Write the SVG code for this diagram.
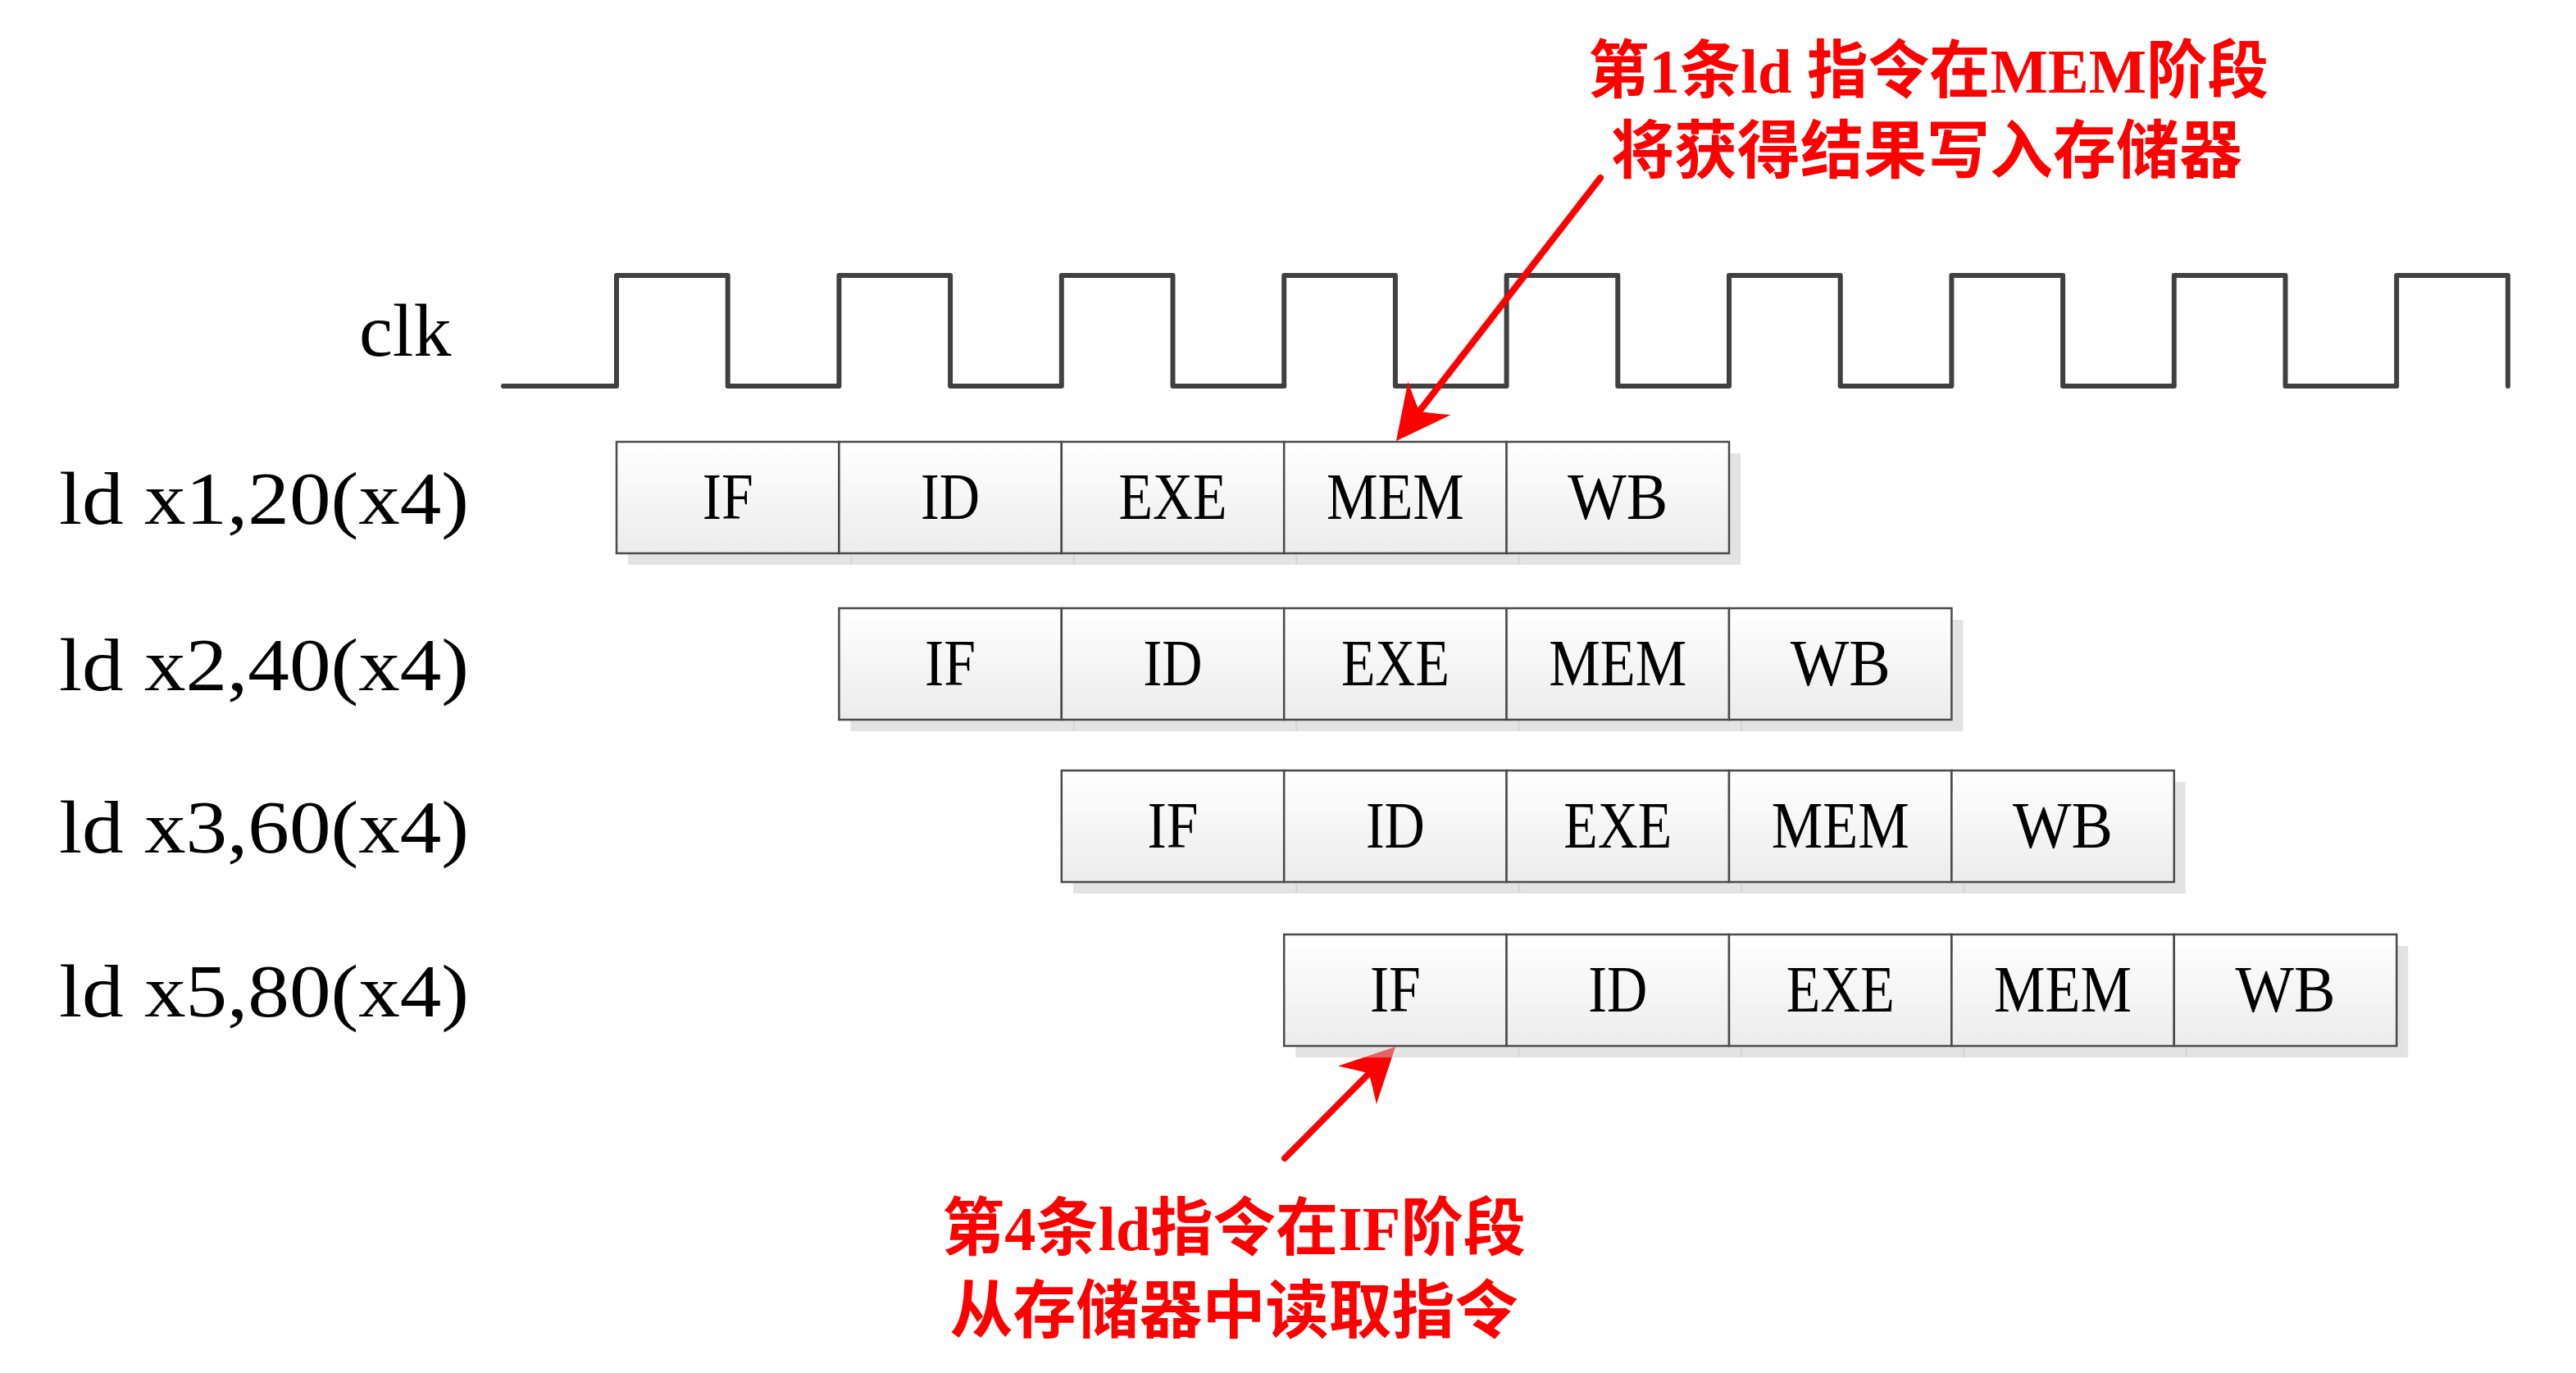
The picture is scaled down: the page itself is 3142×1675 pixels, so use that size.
<svg xmlns="http://www.w3.org/2000/svg" width="3142" height="1675" viewBox="0 0 3142 1675">
<defs>
<linearGradient id="cellGrad" x1="0" y1="0" x2="0" y2="1">
<stop offset="0" stop-color="#ffffff"/>
<stop offset="1" stop-color="#ececec"/>
</linearGradient>
<style>
.clk{fill:none;stroke:#404040;stroke-width:6;stroke-linejoin:round;stroke-linecap:round}
.cell{fill:url(#cellGrad);stroke:#4a4a4a;stroke-width:2.5}
.shadow{fill:#c8c8c8;fill-opacity:0.5;stroke:none}
.stage{font-family:"Liberation Serif",serif;font-size:80px;fill:#000;text-anchor:middle}
.lbl{font-family:"Liberation Serif",serif;font-size:92px;fill:#000}
.note{font-family:"Liberation Serif","Noto Sans CJK SC",serif;font-size:77px;font-weight:bold;fill:#ff0000;text-anchor:middle}
.shaft{stroke:#ff0000;stroke-width:8;stroke-linecap:round;fill:none}
.head{fill:#ff0000;stroke:none}
</style>
</defs>
<rect width="3142" height="1675" fill="#ffffff"/>

<g id="clock">
<text class="lbl" x="438" y="434" font-size="90">clk</text>
<path class="clk" d="M614,471 H752 V336 H887.7 V471 H1023.4 V336 H1159.1 V471 H1294.8 V336 H1430.5 V471 H1566.2 V336 H1701.9 V471 H1837.6 V336 H1973.3 V471 H2109 V336 H2244.7 V471 H2380.4 V336 H2516.1 V471 H2651.8 V336 H2787.5 V471 H2923.2 V336 H3058.9 V471"/>
</g>

<g id="connectors">
<line class="shaft" x1="1952" y1="217" x2="1731.2" y2="501.7"/>
<path class="head" transform="translate(1703,538) rotate(127.8)" d="M0,0 L-66,-33 Q-50,-8 -46,0 Q-50,8 -66,33 Z"/>
<line class="shaft" x1="1567" y1="1413" x2="1669.6" y2="1309.7"/>
<path class="head" transform="translate(1702,1277) rotate(-45.2)" d="M0,0 L-66,-33 Q-50,-8 -46,0 Q-50,8 -66,33 Z"/>
</g>

<g id="row1">
<text class="lbl" x="72" y="639" textLength="500" lengthAdjust="spacingAndGlyphs">ld x1,20(x4)</text>
<g id="r1-shadow">
<rect class="shadow" x="766" y="553" width="273.4" height="136"/>
<rect class="shadow" x="1037.4" y="553" width="273.4" height="136"/>
<rect class="shadow" x="1308.8" y="553" width="273.4" height="136"/>
<rect class="shadow" x="1580.2" y="553" width="273.4" height="136"/>
<rect class="shadow" x="1851.6" y="553" width="271.4" height="136"/>
</g>
<g id="r1-IF"><rect class="cell" x="752" y="539" width="271.4" height="136"/><text class="stage" x="887.7" y="633" textLength="62" lengthAdjust="spacingAndGlyphs">IF</text></g>
<g id="r1-ID"><rect class="cell" x="1023.4" y="539" width="271.4" height="136"/><text class="stage" x="1159.1" y="633" textLength="72" lengthAdjust="spacingAndGlyphs">ID</text></g>
<g id="r1-EXE"><rect class="cell" x="1294.8" y="539" width="271.4" height="136"/><text class="stage" x="1430.5" y="633" textLength="132" lengthAdjust="spacingAndGlyphs">EXE</text></g>
<g id="r1-MEM"><rect class="cell" x="1566.2" y="539" width="271.4" height="136"/><text class="stage" x="1701.9" y="633" textLength="168" lengthAdjust="spacingAndGlyphs">MEM</text></g>
<g id="r1-WB"><rect class="cell" x="1837.6" y="539" width="271.4" height="136"/><text class="stage" x="1973.3" y="633" textLength="122" lengthAdjust="spacingAndGlyphs">WB</text></g>
</g>

<g id="row2">
<text class="lbl" x="72" y="842" textLength="500" lengthAdjust="spacingAndGlyphs">ld x2,40(x4)</text>
<g id="r2-shadow">
<rect class="shadow" x="1037.4" y="756" width="273.4" height="136"/>
<rect class="shadow" x="1308.8" y="756" width="273.4" height="136"/>
<rect class="shadow" x="1580.2" y="756" width="273.4" height="136"/>
<rect class="shadow" x="1851.6" y="756" width="273.4" height="136"/>
<rect class="shadow" x="2123" y="756" width="271.4" height="136"/>
</g>
<g id="r2-IF"><rect class="cell" x="1023.4" y="742" width="271.4" height="136"/><text class="stage" x="1159.1" y="836" textLength="62" lengthAdjust="spacingAndGlyphs">IF</text></g>
<g id="r2-ID"><rect class="cell" x="1294.8" y="742" width="271.4" height="136"/><text class="stage" x="1430.5" y="836" textLength="72" lengthAdjust="spacingAndGlyphs">ID</text></g>
<g id="r2-EXE"><rect class="cell" x="1566.2" y="742" width="271.4" height="136"/><text class="stage" x="1701.9" y="836" textLength="132" lengthAdjust="spacingAndGlyphs">EXE</text></g>
<g id="r2-MEM"><rect class="cell" x="1837.6" y="742" width="271.4" height="136"/><text class="stage" x="1973.3" y="836" textLength="168" lengthAdjust="spacingAndGlyphs">MEM</text></g>
<g id="r2-WB"><rect class="cell" x="2109" y="742" width="271.4" height="136"/><text class="stage" x="2244.7" y="836" textLength="122" lengthAdjust="spacingAndGlyphs">WB</text></g>
</g>

<g id="row3">
<text class="lbl" x="72" y="1040" textLength="500" lengthAdjust="spacingAndGlyphs">ld x3,60(x4)</text>
<g id="r3-shadow">
<rect class="shadow" x="1308.8" y="954" width="273.4" height="136"/>
<rect class="shadow" x="1580.2" y="954" width="273.4" height="136"/>
<rect class="shadow" x="1851.6" y="954" width="273.4" height="136"/>
<rect class="shadow" x="2123" y="954" width="273.4" height="136"/>
<rect class="shadow" x="2394.4" y="954" width="271.4" height="136"/>
</g>
<g id="r3-IF"><rect class="cell" x="1294.8" y="940" width="271.4" height="136"/><text class="stage" x="1430.5" y="1034" textLength="62" lengthAdjust="spacingAndGlyphs">IF</text></g>
<g id="r3-ID"><rect class="cell" x="1566.2" y="940" width="271.4" height="136"/><text class="stage" x="1701.9" y="1034" textLength="72" lengthAdjust="spacingAndGlyphs">ID</text></g>
<g id="r3-EXE"><rect class="cell" x="1837.6" y="940" width="271.4" height="136"/><text class="stage" x="1973.3" y="1034" textLength="132" lengthAdjust="spacingAndGlyphs">EXE</text></g>
<g id="r3-MEM"><rect class="cell" x="2109" y="940" width="271.4" height="136"/><text class="stage" x="2244.7" y="1034" textLength="168" lengthAdjust="spacingAndGlyphs">MEM</text></g>
<g id="r3-WB"><rect class="cell" x="2380.4" y="940" width="271.4" height="136"/><text class="stage" x="2516.1" y="1034" textLength="122" lengthAdjust="spacingAndGlyphs">WB</text></g>
</g>

<g id="row4">
<text class="lbl" x="72" y="1240" textLength="500" lengthAdjust="spacingAndGlyphs">ld x5,80(x4)</text>
<g id="r4-shadow">
<rect class="shadow" x="1580.2" y="1154" width="273.4" height="136"/>
<rect class="shadow" x="1851.6" y="1154" width="273.4" height="136"/>
<rect class="shadow" x="2123" y="1154" width="273.4" height="136"/>
<rect class="shadow" x="2394.4" y="1154" width="273.4" height="136"/>
<rect class="shadow" x="2665.8" y="1154" width="271.4" height="136"/>
</g>
<g id="r4-IF"><rect class="cell" x="1566.2" y="1140" width="271.4" height="136"/><text class="stage" x="1701.9" y="1234" textLength="62" lengthAdjust="spacingAndGlyphs">IF</text></g>
<g id="r4-ID"><rect class="cell" x="1837.6" y="1140" width="271.4" height="136"/><text class="stage" x="1973.3" y="1234" textLength="72" lengthAdjust="spacingAndGlyphs">ID</text></g>
<g id="r4-EXE"><rect class="cell" x="2109" y="1140" width="271.4" height="136"/><text class="stage" x="2244.7" y="1234" textLength="132" lengthAdjust="spacingAndGlyphs">EXE</text></g>
<g id="r4-MEM"><rect class="cell" x="2380.4" y="1140" width="271.4" height="136"/><text class="stage" x="2516.1" y="1234" textLength="168" lengthAdjust="spacingAndGlyphs">MEM</text></g>
<g id="r4-WB"><rect class="cell" x="2651.8" y="1140" width="271.4" height="136"/><text class="stage" x="2787.5" y="1234" textLength="122" lengthAdjust="spacingAndGlyphs">WB</text></g>
</g>

<g id="note-top">
<text class="note" x="2352" y="113" textLength="830" lengthAdjust="spacingAndGlyphs">第1条ld 指令在MEM阶段</text>
<text class="note" x="2350" y="211">将获得结果写入存储器</text>
</g>

<g id="note-bottom">
<text class="note" x="1505" y="1525" textLength="712" lengthAdjust="spacingAndGlyphs">第4条ld指令在IF阶段</text>
<text class="note" x="1505" y="1626">从存储器中读取指令</text>
</g>
</svg>
